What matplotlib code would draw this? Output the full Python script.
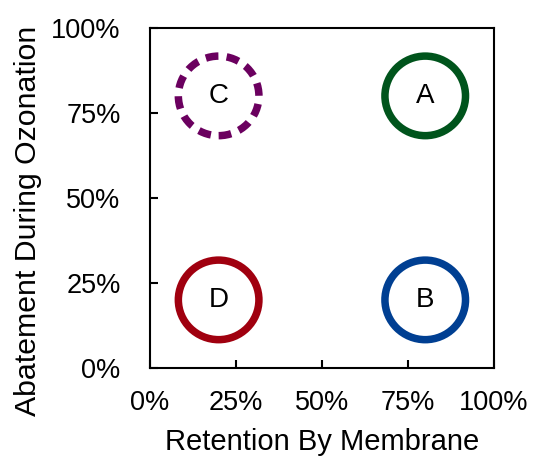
import matplotlib
matplotlib.use("Agg")
import matplotlib.pyplot as plt
from matplotlib.patches import Circle

plt.rcParams['font.family'] = ['Liberation Sans', 'DejaVu Sans']
plt.rcParams['xtick.labelsize'] = 19.5
plt.rcParams['ytick.labelsize'] = 19.5
plt.rcParams['xtick.major.pad'] = 16
plt.rcParams['ytick.major.pad'] = 21
plt.rcParams['xtick.direction'] = 'in'
plt.rcParams['ytick.direction'] = 'in'

labels = ["A", "B", "C", "D"]
retention = [0.80, 0.80, 0.20, 0.20]
abatement = [0.80, 0.20, 0.80, 0.20]
colors = ["#00541c", "#003f92", "#6b005f", "#a0000f"]
styles = ["-", "-", (0, (1.7, 1.1)), "-"]
ticks = [0, 0.25, 0.5, 0.75, 1.0]
tick_labels = ["0%", "25%", "50%", "75%", "100%"]

fig = plt.figure(figsize=(5.33, 4.57), dpi=100)
ax = fig.add_axes([0.281, 0.195, 0.646, 0.744])

for lab, x, y, c, ls in zip(labels, retention, abatement, colors, styles):
    ax.add_patch(Circle((x, y), 0.117, fill=False, edgecolor=c, linewidth=5.4, linestyle=ls))
    ax.text(x, y, lab, ha="center", va="center", fontsize=20)

ax.set_xlim(0, 1)
ax.set_ylim(0, 1)
ax.set_xticks(ticks, tick_labels)
ax.set_yticks(ticks, tick_labels)
ax.tick_params(length=6, width=1.5)
for s in ax.spines.values():
    s.set_linewidth(1.5)
ax.set_xlabel("Retention By Membrane", fontsize=21)
ax.set_ylabel("Abatement During Ozonation", fontsize=21.8)
ax.xaxis.set_label_coords(0.5, -0.178)
ax.yaxis.set_label_coords(-0.312, 0.432)

fig.savefig("out.png", dpi=100)
